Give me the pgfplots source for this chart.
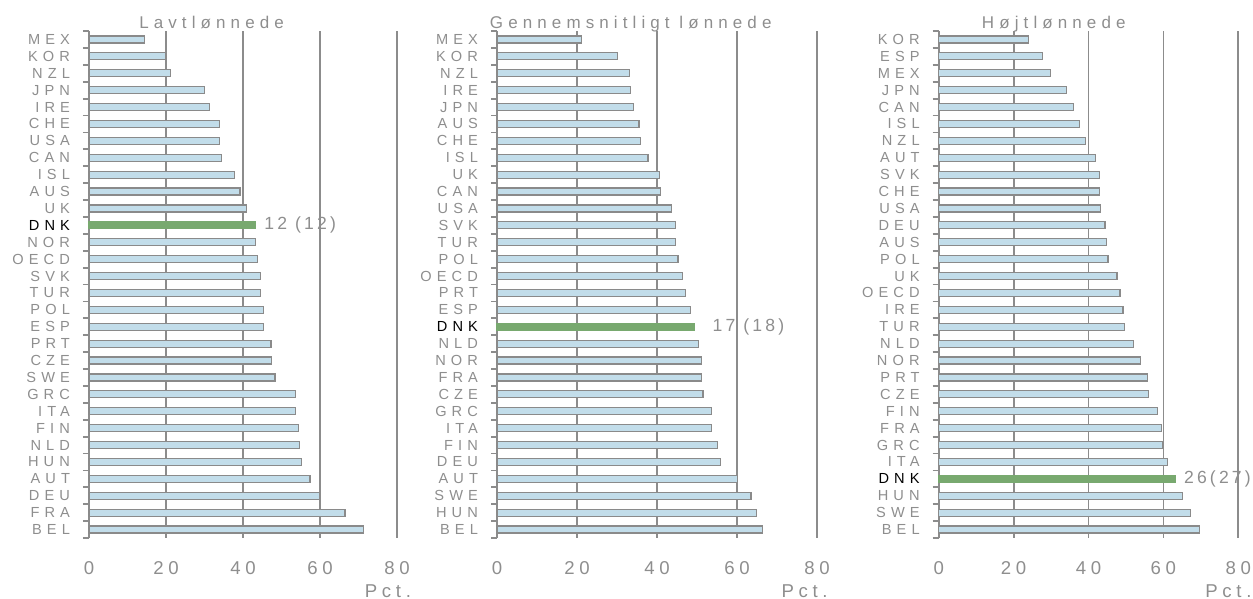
\documentclass[border=0pt]{standalone}
\usepackage{pgfplots}
\pgfplotsset{compat=1.18}
\usepackage{fontspec}
\setmainfont{Liberation Sans}
\newfontfamily\lblfont[LetterSpace=35]{Liberation Sans}
\newfontfamily\numfont[LetterSpace=25]{Liberation Sans}
\newfontfamily\ttlfont[LetterSpace=30]{Liberation Sans}
\newfontfamily\annfont[LetterSpace=18]{Liberation Sans}
\definecolor{txtgray}{HTML}{8E8E8E}
\definecolor{axgray}{HTML}{8C8C8C}
\definecolor{barblue}{HTML}{C2DDEA}
\definecolor{bargray}{HTML}{8A8A8A}
\definecolor{dnkgreen}{HTML}{78A96F}
\tikzset{
 bluebar/.style={draw=bargray, fill=barblue, line width=0.6pt},
 greenbar/.style={draw=dnkgreen, fill=dnkgreen, line width=0.6pt},
 ann/.style={anchor=west, xshift=1pt, font=\annfont\fontsize{8.8}{10}\selectfont, text=txtgray}
}
\pgfplotsset{
 panel/.style={
   scale only axis, xbar, y dir=reverse, anchor=south west,
   xmin=0, xmax=80, ymin=-0.5, ymax=29.5,
   xtick={0,20,40,60,80}, ytick={0,...,29}, minor ytick={-0.5,0.5,...,29.5},
   axis lines*=left, axis line style={-, draw=axgray, line width=0.9pt},
   x axis line style={draw=none},
   xmajorgrids, major grid style={draw=axgray, line width=0.9pt},
   tick align=outside, major tick length=0pt, minor tick length=3pt,
   minor tick style={draw=axgray, line width=0.9pt},
   bar width=0.41, clip=false,
   /pgf/number format/assume math mode=true,
   xticklabel style={font=\numfont\fontsize{9.3}{10}\selectfont, text=txtgray, yshift=-8pt},
   yticklabel style={font=\lblfont\fontsize{7.3}{8}\selectfont, text=txtgray, xshift=-6pt},
   every axis title shift=0pt,
   title style={anchor=base, yshift=1.35pt, font=\ttlfont\fontsize{8.5}{9}\selectfont, text=txtgray},
   xlabel={Pct.},
   xlabel style={at={(rel axis cs:1,0)}, anchor=north east, yshift=-19.6pt,
     font=\numfont\fontsize{9.3}{10}\selectfont, text=txtgray},
 }
}
\begin{document}
\begin{tikzpicture}
\useasboundingbox (0,0) rectangle (626.5pt,299.5pt);

% Lavtlønnede
\begin{axis}[panel, at={(44.5pt,30.5pt)}, width=154pt, height=253.5pt,
  title={Lavtlønnede}, title style={at={(0.398,1)}},
  xlabel style={xshift=10.5pt},
  yticklabels={MEX,KOR,NZL,JPN,IRE,CHE,USA,CAN,ISL,AUS,UK,{\color{black}DNK},NOR,OECD,SVK,TUR,POL,ESP,PRT,CZE,SWE,GRC,ITA,FIN,NLD,HUN,AUT,DEU,FRA,BEL}]
\addplot[bluebar, bar shift=0pt] coordinates {
 (14.4,0) (19.9,1) (21.2,2) (29.9,3) (31.3,4) (33.9,5) (34.0,6) (34.4,7) (37.7,8) (39.2,9)
 (40.9,10) (43.2,12) (43.8,13) (44.6,14) (44.6,15) (45.4,16) (45.4,17) (47.3,18) (47.5,19)
 (48.3,20) (53.6,21) (53.6,22) (54.4,23) (54.7,24) (55.1,25) (57.4,26) (59.9,27) (66.5,28) (71.3,29)};
\addplot[greenbar, bar shift=0pt] coordinates {(43.2,11)};
\node[ann] at (axis cs:43.2,11) {12 (12)};
\end{axis}

% Gennemsnitligt lønnede
\begin{axis}[panel, at={(248.5pt,30.5pt)}, width=160pt, height=253.5pt,
  title={Gennemsnitligt lønnede}, title style={at={(0.418,1)}},
  xlabel style={xshift=8.8pt},
  yticklabels={MEX,KOR,NZL,IRE,JPN,AUS,CHE,ISL,UK,CAN,USA,SVK,TUR,POL,OECD,PRT,ESP,{\color{black}DNK},NLD,NOR,FRA,CZE,GRC,ITA,FIN,DEU,AUT,SWE,HUN,BEL}]
\addplot[bluebar, bar shift=0pt] coordinates {
 (21.1,0) (30.1,1) (33.1,2) (33.3,3) (34.1,4) (35.5,5) (35.8,6) (37.75,7) (40.6,8) (40.9,9)
 (43.6,10) (44.6,11) (44.6,12) (45.25,13) (46.3,14) (47.2,15) (48.3,16) (50.3,18) (51.1,19)
 (51.1,20) (51.5,21) (53.7,22) (53.7,23) (55.1,24) (55.8,25) (60.2,26) (63.5,27) (64.9,28) (66.3,29)};
\addplot[greenbar, bar shift=0pt] coordinates {(49.4,17)};
\node[ann, xshift=4.5pt] at (axis cs:49.4,17) {17 (18)};
\end{axis}

% Højtlønnede
\begin{axis}[panel, at={(469.35pt,30.5pt)}, width=149.8pt, height=253.5pt,
  title={Højtlønnede}, title style={at={(0.384,1)}},
  xlabel style={xshift=10.1pt},
  yticklabels={KOR,ESP,MEX,JPN,CAN,ISL,NZL,AUT,SVK,CHE,USA,DEU,AUS,POL,UK,OECD,IRE,TUR,NLD,NOR,PRT,CZE,FIN,FRA,GRC,ITA,{\color{black}DNK},HUN,SWE,BEL}]
\addplot[bluebar, bar shift=0pt] coordinates {
 (23.9,0) (27.8,1) (29.8,2) (34.1,3) (35.9,4) (37.5,5) (39.1,6) (41.8,7) (42.9,8) (42.9,9)
 (43.3,10) (44.4,11) (44.8,12) (45.2,13) (47.6,14) (48.4,15) (49.2,16) (49.6,17) (52.1,18)
 (53.8,19) (55.7,20) (56.1,21) (58.4,22) (59.4,23) (59.8,24) (61.1,25) (65.0,27) (67.3,28) (69.6,29)};
\addplot[greenbar, bar shift=0pt] coordinates {(63.1,26)};
\node[ann] at (axis cs:63.1,26) {26(27)};
\end{axis}
\end{tikzpicture}
\end{document}
